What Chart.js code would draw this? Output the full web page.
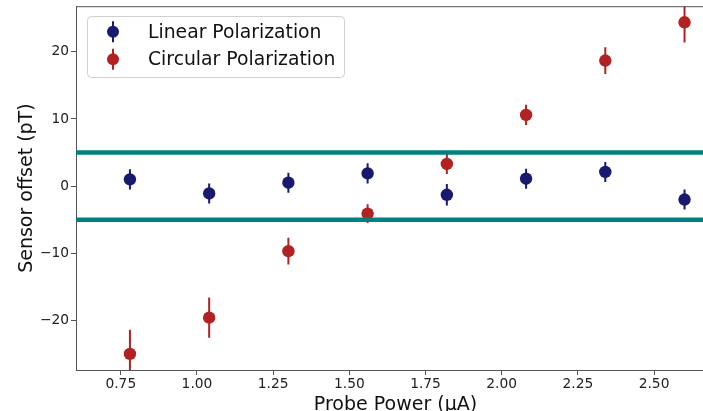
<!DOCTYPE html>
<html>
<head>
<meta charset="utf-8">
<script src="https://cdn.jsdelivr.net/npm/chart.js@4/dist/chart.umd.min.js"></script>
<style>
  html, body { margin: 0; padding: 0; background: #fff; overflow: hidden; }
  #wrap { width: 703px; height: 411px; overflow: hidden; position: relative; }
  canvas { display: block; position: absolute; left: 0; top: 0; }
</style>
</head>
<body>
<div id="wrap"><canvas id="chart" width="740" height="420"></canvas></div>
<script>
// ---- data ----
const probePower = [0.78, 1.04, 1.30, 1.56, 1.82, 2.08, 2.34, 2.60];
const linearOffset = [1.0, -1.1, 0.5, 1.9, -1.3, 1.1, 2.1, -2.0];
const linearErr = [1.5, 1.5, 1.5, 1.5, 1.6, 1.5, 1.5, 1.5];
const circularOffset = [-25.0, -19.6, -9.7, -4.1, 3.3, 10.6, 18.7, 24.4];
const circularErr = [3.6, 3.0, 2.0, 1.4, 1.5, 1.5, 2.0, 3.0];
const thresholds = [5, -5];

const xTicks = [0.75, 1.00, 1.25, 1.50, 1.75, 2.00, 2.25, 2.50];
const yTicks = [-20, -10, 0, 10, 20];
const xRange = [0.603, 2.70];
const yRange = [-27.4, 26.8];

const BLUE = '#191970';
const RED = '#b22222';
const TEAL = '#008080';
const SPINE = '#555';
const FONT = "'DejaVu Sans', sans-serif";

function toPoints(xs, ys, errs) {
  return xs.map((x, i) => ({ x: x, y: ys[i], err: errs[i] }));
}

// vertical error bars, drawn under the markers
const errorBars = {
  id: 'errorBars',
  beforeDatasetDraw(chart, args) {
    const ds = chart.data.datasets[args.index];
    if (!ds.errorBars) return;
    const { ctx, chartArea, scales } = chart;
    ctx.save();
    ctx.beginPath();
    ctx.rect(chartArea.left, chartArea.top, chartArea.width, chartArea.height);
    ctx.clip();
    ctx.strokeStyle = ds.borderColor;
    ctx.lineWidth = 2;
    ds.data.forEach(p => {
      const x = scales.x.getPixelForValue(p.x);
      ctx.beginPath();
      ctx.moveTo(x, scales.y.getPixelForValue(p.y - p.err));
      ctx.lineTo(x, scales.y.getPixelForValue(p.y + p.err));
      ctx.stroke();
    });
    ctx.beginPath();
    ctx.restore();
  }
};

// top spine + boxed legend like matplotlib
const frameAndLegend = {
  id: 'frameAndLegend',
  afterDraw(chart) {
    const { ctx, chartArea } = chart;
    ctx.save();
    ctx.fillStyle = SPINE;
    ctx.fillRect(chartArea.left, chartArea.top, chartArea.right - chartArea.left, 1);

    // legend box
    const bx = 87.5, by = 16.5, bw = 257, bh = 61, r = 4;
    ctx.beginPath();
    ctx.roundRect(bx, by, bw, bh, r);
    ctx.fillStyle = 'rgba(255,255,255,0.8)';
    ctx.fill();
    ctx.strokeStyle = '#d0d0d0';
    ctx.lineWidth = 1;
    ctx.stroke();

    const items = chart.data.datasets.filter(d => d.errorBars);
    ctx.font = '18.8px ' + FONT;
    ctx.textBaseline = 'middle';
    ctx.textAlign = 'left';
    items.forEach((d, i) => {
      const my = 31.7 + i * 27.6;
      ctx.strokeStyle = d.borderColor;
      ctx.lineWidth = 2;
      ctx.beginPath();
      ctx.moveTo(113, my - 10.5);
      ctx.lineTo(113, my + 10.5);
      ctx.stroke();
      ctx.fillStyle = d.backgroundColor;
      ctx.beginPath();
      ctx.arc(113, my, 6, 0, Math.PI * 2);
      ctx.fill();
      ctx.fillStyle = '#111';
      ctx.fillText(d.label, 148, my + 1);
    });
    ctx.beginPath();
    ctx.restore();
  }
};

const thresholdSets = thresholds.map(t => ({
  type: 'line',
  label: 'threshold ' + t,
  data: xRange.map(x => ({ x: x, y: t })),
  borderColor: TEAL,
  borderWidth: 4.5,
  pointRadius: 0,
  fill: false
}));

new Chart(document.getElementById('chart'), {
  type: 'scatter',
  data: {
    datasets: [
      ...thresholdSets,
      {
        label: 'Linear Polarization',
        data: toPoints(probePower, linearOffset, linearErr),
        errorBars: true,
        backgroundColor: BLUE,
        borderColor: BLUE,
        pointRadius: 6.2,
        pointBorderWidth: 0
      },
      {
        label: 'Circular Polarization',
        data: toPoints(probePower, circularOffset, circularErr),
        errorBars: true,
        backgroundColor: RED,
        borderColor: RED,
        pointRadius: 6.2,
        pointBorderWidth: 0
      }
    ]
  },
  options: {
    responsive: false,
    animation: false,
    devicePixelRatio: 1,
    // the reference is cut at the right and bottom, so the canvas runs past the window
    layout: { padding: { top: 6, right: 25, left: 0, bottom: 0 } },
    plugins: {
      legend: { display: false },
      tooltip: { enabled: false }
    },
    scales: {
      x: {
        type: 'linear',
        min: xRange[0],
        max: xRange[1],
        afterBuildTicks: s => { s.ticks = xTicks.map(v => ({ value: v })); },
        afterFit: s => { s.height = 50; s.paddingLeft = 0; s.paddingRight = 0; },
        grid: { drawOnChartArea: false, drawTicks: true, tickLength: 5, color: SPINE },
        border: { display: true, color: SPINE, width: 1 },
        ticks: {
          color: '#222',
          padding: 1,
          font: { family: FONT, size: 13.8 },
          callback: v => Number(v).toFixed(2)
        },
        title: {
          display: true,
          text: 'Probe Power (\u03bcA)',
          color: '#111',
          font: { family: FONT, size: 19 },
          padding: { top: 0, bottom: 4 }
        }
      },
      y: {
        min: yRange[0],
        max: yRange[1],
        afterBuildTicks: s => { s.ticks = yTicks.map(v => ({ value: v })); },
        afterFit: s => { s.width = 76; s.paddingTop = 0; s.paddingBottom = 0; },
        grid: { drawOnChartArea: false, drawTicks: true, tickLength: 5, color: SPINE },
        border: { display: true, color: SPINE, width: 1 },
        ticks: {
          color: '#222',
          padding: 2,
          font: { family: FONT, size: 13.8 },
          callback: v => String(v).replace('-', '\u2212')
        },
        title: {
          display: true,
          text: 'Sensor offset (pT)',
          color: '#111',
          font: { family: FONT, size: 19 },
          padding: { top: 16, bottom: 0 }
        }
      }
    }
  },
  plugins: [errorBars, frameAndLegend]
});
</script>
</body>
</html>
